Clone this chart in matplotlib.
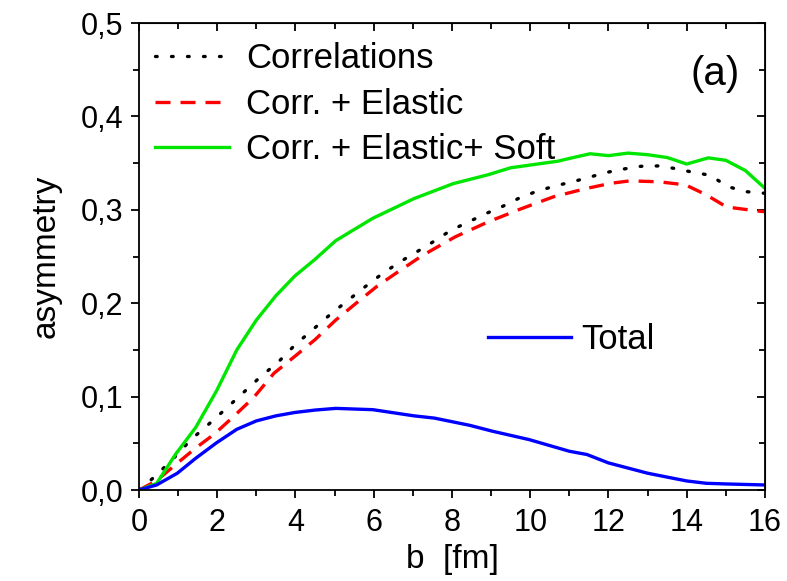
import matplotlib
matplotlib.use("Agg")
import matplotlib.pyplot as plt
from matplotlib.ticker import MultipleLocator, FuncFormatter

plt.rcParams['font.family'] = ['Liberation Sans', 'DejaVu Sans']

# curves, b in fm
b_green = [0, 0.45, 0.93, 1.45, 1.98, 2.5, 3.0, 3.5, 3.98, 4.5, 5.03, 5.98, 7.03, 8.03,
           8.92, 9.5, 10.7, 11.0, 11.53, 12.0, 12.5, 13.0, 13.5, 14.0, 14.55, 15.0, 15.5, 16.0]
soft = [0, 0.007, 0.038, 0.067, 0.106, 0.15, 0.182, 0.208, 0.229, 0.247, 0.267, 0.291, 0.312, 0.328,
        0.3375, 0.345, 0.352, 0.355, 0.360, 0.358, 0.3607, 0.359, 0.356, 0.349, 0.3556, 0.353, 0.342, 0.323]

b_black = [0, 0.45, 0.93, 1.33, 1.77, 2.22, 2.66, 3.1, 3.56, 3.98, 4.45, 4.89, 5.34, 5.76, 6.2,
           6.66, 7.1, 7.53, 7.97, 8.42, 8.87, 9.31, 9.74, 10.18, 10.64, 11.08, 11.52, 11.95,
           12.39, 12.83, 13.29, 13.73, 14.18, 14.6, 15.04, 15.5, 16.0]
corr = [0, 0.016, 0.036, 0.054, 0.070, 0.087, 0.104, 0.121, 0.137, 0.155, 0.172, 0.188, 0.203,
        0.217, 0.231, 0.244, 0.255, 0.266, 0.278, 0.287, 0.296, 0.304, 0.313, 0.320, 0.3256,
        0.330, 0.335, 0.340, 0.3437, 0.3466, 0.347, 0.344, 0.340, 0.337, 0.325, 0.3195, 0.3177]

b_red = [0, 0.45, 0.93, 1.45, 1.93, 2.4, 2.93, 3.45, 3.98, 4.5, 5.03, 5.55, 6.08, 6.6, 7.24,
         8.08, 8.92, 9.76, 10.6, 11.45, 12.08, 12.55, 13.29, 13.97, 14.5, 15.02, 15.86, 16.0]
elastic = [0, 0.01, 0.027, 0.045, 0.06, 0.078, 0.099, 0.125, 0.143, 0.161, 0.182, 0.200, 0.218,
           0.233, 0.251, 0.271, 0.287, 0.301, 0.314, 0.323, 0.3285, 0.331, 0.330, 0.3267,
           0.316, 0.303, 0.2985, 0.298]

b_blue = [0, 0.45, 0.98, 1.45, 1.98, 2.5, 3.0, 3.5, 3.98, 4.5, 5.03, 5.98, 7.03, 7.55, 8.45,
          9.03, 9.97, 11.0, 11.45, 12.0, 13.0, 13.55, 14.0, 14.5, 15.0, 16.0]
total = [0, 0.0054, 0.018, 0.034, 0.0505, 0.065, 0.074, 0.0794, 0.083, 0.0856, 0.0874, 0.086,
         0.0794, 0.077, 0.0693, 0.063, 0.054, 0.0415, 0.038, 0.029, 0.018, 0.0134, 0.0097,
         0.0072, 0.0065, 0.0054]

fig = plt.figure(figsize=(7.87, 5.81), dpi=100)
ax = fig.add_axes([0.1766, 0.1566, 0.7954, 0.8038])

l1, = ax.plot(b_black, corr, color='black', lw=2.4, linestyle=(0, (0.5, 4.3)),
              dash_capstyle='round', label='Correlations')
l2, = ax.plot(b_red, elastic, color='#ff0000', lw=2.4, linestyle=(0, (4.5, 3.0)),
              label='Corr. + Elastic')
l3, = ax.plot(b_green, soft, color='#00e600', lw=2.4, label='Corr. + Elastic+ Soft')
l4, = ax.plot(b_blue, total, color='#0000ff', lw=2.4, label='Total')

ax.set_xlim(0, 16)
ax.set_ylim(0, 0.5)
ax.xaxis.set_major_locator(MultipleLocator(2))
ax.xaxis.set_minor_locator(MultipleLocator(1))
ax.yaxis.set_major_locator(MultipleLocator(0.1))
ax.yaxis.set_minor_locator(MultipleLocator(0.05))
ax.yaxis.set_major_formatter(FuncFormatter(lambda v, p: ('%.1f' % v).replace('.', ',')))
ax.tick_params(which='major', direction='out', length=6, width=1.3, labelsize=22, pad=5)
ax.tick_params(axis='x', which='major', pad=7)
ax.tick_params(which='minor', direction='out', length=4, width=1.3)
for s in ax.spines.values():
    s.set_linewidth(1.3)

top = ax.secondary_xaxis('top')
top.xaxis.set_major_locator(MultipleLocator(2))
top.xaxis.set_minor_locator(MultipleLocator(1))
top.tick_params(which='major', direction='in', length=6, width=1.3, labeltop=False)
top.tick_params(which='minor', direction='in', length=4, width=1.3)
right = ax.secondary_yaxis('right')
right.yaxis.set_major_locator(MultipleLocator(0.1))
right.yaxis.set_minor_locator(MultipleLocator(0.05))
right.tick_params(which='major', direction='in', length=6, width=1.3, labelright=False)
right.tick_params(which='minor', direction='in', length=4, width=1.3)

ax.set_xlabel('b  [fm]', fontsize=24, labelpad=4)
ax.set_ylabel('asymmetry', fontsize=24, labelpad=14)

leg1 = ax.legend(handles=[l1, l2, l3], loc='upper left', frameon=False, fontsize=25,
                 handlelength=2.13, handletextpad=0.5, labelspacing=0.36,
                 borderaxespad=0.16, bbox_to_anchor=(-0.006, 1.0))
ax.add_artist(leg1)
ax.legend(handles=[l4], loc='center left', frameon=False, fontsize=25,
          handlelength=2.4, handletextpad=0.3, borderaxespad=0.0,
          bbox_to_anchor=(0.535, 0.323))

ax.text(0.96, 0.89, '(a)', transform=ax.transAxes, fontsize=29, ha='right', va='center')

fig.savefig('out.png', dpi=100)
